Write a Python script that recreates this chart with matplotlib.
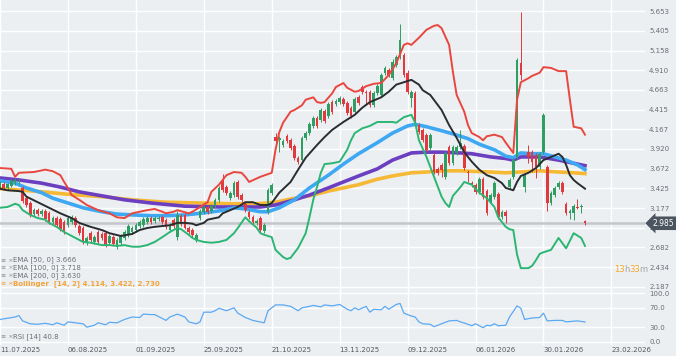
import numpy as np
import matplotlib
matplotlib.use("Agg")
import matplotlib.pyplot as plt
from matplotlib.transforms import blended_transform_factory

# === Données : bougies (index = jour de bourse) ===
opens = [3.45, 3.48, 3.43, 3.45, 3.49, 3.505, 3.43, 3.30, 3.24, 3.10,
         3.15, 3.10, 3.14, 3.11, 3.00, 3.05, 3.04, 3.00, 2.96, 3.00,
         3.05, 2.95, 2.925, 2.74, 2.86, 2.75, 2.875, 2.85, 2.86, 2.74,
         2.81, 2.69, 2.74, 2.80, 2.84, 2.875, 2.90, 2.95, 2.96, 3.00,
         3.05, 3.01, 3.04, 3.06, 3.03, 2.90, 3.03, 2.81, 3.08, 3.09,
         2.925, 2.90, 2.775, 3.05, 3.13, 3.19, 3.14, 3.20, 3.28, 3.52,
         3.44, 3.30, 3.34, 3.505, 3.34, 3.23, 3.13, 3.06, 2.99, 3.05,
         2.89, 3.13, 3.37, 4.07, 4.03, 3.97, 4.08, 4.03, 3.96, 3.81,
         3.78, 4.06, 4.12, 4.21, 4.31, 4.29, 4.40, 4.335, 4.51, 4.49,
         4.51, 4.55, 4.50, 4.44, 4.39, 4.57, 4.70, 4.64, 4.64, 4.47,
         4.62, 4.60, 4.88, 4.91, 4.81, 4.98, 5.08, 5.10, 4.88, 4.56,
         4.62, 4.22, 4.16, 4.10, 3.93, 3.84, 3.67, 3.72, 3.57, 3.95,
         3.74, 3.87, 3.95, 3.96, 3.63, 3.49, 3.47, 3.38, 3.54, 3.39,
         3.25, 3.32, 3.35, 3.06, 3.13, 3.44, 3.57, 3.82, 5.00, 3.44,
         3.88, 3.88, 3.84, 3.69, 3.88, 3.69, 3.24, 3.34, 3.44, 3.49,
         3.23, 3.11, 3.11, 3.19, 3.19, 3.01]
closes = [3.49, 3.43, 3.48, 3.52, 3.53, 3.52, 3.27, 3.215, 3.09, 3.15,
          3.10, 3.14, 3.04, 3.00, 3.05, 2.96, 2.91, 2.875, 3.05, 3.06,
          2.96, 2.86, 2.75, 2.80, 2.775, 2.81, 2.75, 2.80, 2.71, 2.825,
          2.725, 2.775, 2.825, 2.875, 2.95, 2.925, 2.96, 3.00, 3.04, 3.05,
          3.00, 3.05, 3.05, 3.00, 2.94, 2.96, 2.95, 3.09, 2.98, 2.925,
          2.875, 2.84, 2.84, 3.14, 3.19, 3.13, 3.20, 3.28, 3.43, 3.40,
          3.37, 3.37, 3.49, 3.32, 3.28, 3.15, 3.06, 3.00, 3.01, 2.90,
          2.96, 3.40, 3.47, 4.02, 4.06, 4.02, 4.02, 3.93, 3.81, 3.76,
          4.06, 4.12, 4.23, 4.31, 4.21, 4.41, 4.27, 4.49, 4.39, 4.52,
          4.56, 4.49, 4.37, 4.335, 4.55, 4.50, 4.64, 4.62, 4.47, 4.62,
          4.71, 4.85, 4.94, 4.85, 5.02, 5.08, 5.29, 4.85, 4.64, 4.64,
          4.29, 4.13, 4.03, 3.91, 4.10, 3.63, 3.62, 3.66, 3.87, 3.74,
          3.95, 3.95, 4.00, 3.68, 3.62, 3.47, 3.38, 3.54, 3.32, 3.11,
          3.34, 3.49, 3.06, 3.13, 3.08, 3.53, 3.78, 5.04, 4.85, 3.59,
          3.82, 3.76, 3.69, 3.86, 4.35, 3.24, 3.37, 3.43, 3.49, 3.38,
          3.11, 3.14, 3.20, 3.18, 3.19, 2.985]
highs = [3.52, 3.505, 3.49, 3.54, 3.555, 3.54, 3.45, 3.33, 3.27, 3.18,
         3.18, 3.165, 3.165, 3.14, 3.08, 3.08, 3.06, 3.03, 3.08, 3.09,
         3.08, 2.98, 2.95, 2.825, 2.89, 2.84, 2.90, 2.875, 2.89, 2.85,
         2.84, 2.80, 2.85, 2.90, 2.98, 2.95, 2.99, 3.03, 3.06, 3.08,
         3.08, 3.08, 3.08, 3.09, 3.05, 2.99, 3.05, 3.14, 3.10, 3.11,
         2.95, 2.925, 2.86, 3.165, 3.215, 3.215, 3.23, 3.30, 3.45, 3.61,
         3.47, 3.39, 3.52, 3.53, 3.37, 3.25, 3.15, 3.09, 3.04, 3.08,
         2.99, 3.43, 3.49, 4.12, 4.08, 4.05, 4.11, 4.06, 3.98, 3.83,
         4.08, 4.15, 4.26, 4.335, 4.335, 4.44, 4.42, 4.51, 4.54, 4.55,
         4.59, 4.57, 4.52, 4.46, 4.57, 4.60, 4.73, 4.66, 4.66, 4.65,
         4.74, 4.88, 4.96, 4.94, 5.05, 5.10, 5.49, 5.13, 4.91, 4.66,
         4.65, 4.25, 4.18, 4.12, 4.12, 3.87, 3.69, 3.74, 3.895, 3.97,
         3.97, 3.97, 4.16, 3.98, 3.66, 3.52, 3.49, 3.57, 3.57, 3.42,
         3.37, 3.52, 3.38, 3.15, 3.15, 3.555, 3.81, 5.07, 5.64, 3.61,
         3.97, 3.91, 3.87, 3.88, 4.37, 3.72, 3.39, 3.45, 3.52, 3.52,
         3.25, 3.165, 3.23, 3.29, 3.23, 3.03]
lows = [3.43, 3.40, 3.40, 3.44, 3.47, 3.48, 3.24, 3.19, 3.06, 3.08,
        3.08, 3.08, 3.01, 2.98, 2.98, 2.94, 2.89, 2.85, 2.94, 2.98,
        2.94, 2.84, 2.725, 2.71, 2.75, 2.725, 2.725, 2.775, 2.69, 2.71,
        2.70, 2.66, 2.71, 2.775, 2.81, 2.85, 2.875, 2.925, 2.94, 2.98,
        2.98, 2.99, 3.01, 2.98, 2.91, 2.875, 2.925, 2.775, 2.95, 2.91,
        2.85, 2.81, 2.75, 3.03, 3.10, 3.10, 3.11, 3.18, 3.25, 3.38,
        3.34, 3.28, 3.32, 3.29, 3.25, 3.13, 3.04, 2.98, 2.96, 2.875,
        2.86, 3.10, 3.34, 3.97, 3.88, 3.95, 4.00, 3.91, 3.78, 3.73,
        3.76, 4.03, 4.10, 4.18, 4.18, 4.26, 4.25, 4.31, 4.36, 4.46,
        4.49, 4.46, 4.35, 4.31, 4.36, 4.47, 4.61, 4.47, 4.45, 4.45,
        4.60, 4.57, 4.85, 4.83, 4.79, 4.95, 5.05, 4.83, 4.61, 4.45,
        4.26, 4.11, 4.01, 3.88, 3.91, 3.61, 3.59, 3.57, 3.54, 3.72,
        3.72, 3.84, 3.92, 3.66, 3.505, 3.44, 3.35, 3.35, 3.29, 3.09,
        3.23, 3.29, 3.04, 3.04, 2.99, 3.42, 3.54, 3.80, 4.79, 3.38,
        3.74, 3.63, 3.555, 3.67, 3.86, 3.14, 3.215, 3.32, 3.42, 3.35,
        3.09, 3.04, 3.03, 3.165, 3.11, 2.96]

# === Indicateurs ===
ema50_idx = [0, 4, 7, 11, 14, 18, 22, 27, 31, 35, 40, 44, 49, 53, 58, 62, 65, 69, 71, 74,
             78, 82, 87, 91, 95, 100, 104, 108, 110, 113, 117, 120, 124, 127, 131, 134, 136, 138, 141, 144,
             147, 150, 153, 155]
ema50_val = [3.52, 3.49, 3.43, 3.37, 3.30, 3.24, 3.18, 3.13, 3.10, 3.09, 3.08, 3.08, 3.09, 3.11, 3.14, 3.18, 3.165, 3.13, 3.13, 3.18,
             3.28, 3.43, 3.59, 3.73, 3.86, 4.00, 4.12, 4.21, 4.23, 4.20, 4.15, 4.11, 4.05, 3.98, 3.91, 3.83, 3.81, 3.87, 3.86, 3.86,
             3.82, 3.78, 3.72, 3.66]
ema100_idx = [0, 5, 11, 16, 21, 27, 33, 40, 49, 58, 64, 69, 73, 78, 82, 87, 91, 95, 100, 104,
              109, 113, 117, 122, 125, 130, 134, 136, 138, 143, 148, 152, 155]
ema100_val = [3.555, 3.53, 3.49, 3.44, 3.38, 3.33, 3.28, 3.24, 3.20, 3.19, 3.19, 3.19, 3.215, 3.28, 3.34, 3.43, 3.505, 3.58, 3.67, 3.78,
              3.87, 3.88, 3.88, 3.87, 3.86, 3.82, 3.80, 3.78, 3.82, 3.82, 3.78, 3.74, 3.71]
ema200_idx = [0, 9, 18, 27, 35, 44, 53, 62, 68, 73, 78, 82, 87, 91, 95, 100, 104, 109, 113, 117,
              122, 130, 134, 143, 148, 152, 155]
ema200_val = [3.42, 3.39, 3.35, 3.32, 3.28, 3.25, 3.24, 3.23, 3.23, 3.25, 3.30, 3.33, 3.39, 3.43, 3.47, 3.54, 3.58, 3.62, 3.63, 3.645,
              3.645, 3.63, 3.62, 3.645, 3.63, 3.62, 3.61]

bb_up_idx = [0, 3, 4, 5, 9, 12, 14, 16, 17, 18, 19, 21, 23, 26, 29, 31, 33, 35, 39, 41,
             43, 44, 46, 47, 50, 51, 53, 55, 56, 58, 59, 60, 62, 64, 65, 66, 69, 72, 73, 74,
             75, 77, 78, 80, 81, 83, 84, 85, 86, 88, 89, 91, 92, 94, 95, 97, 99, 101, 103, 105,
             107, 108, 109, 111, 113, 115, 116, 117, 119, 120, 121, 123, 124, 125, 127, 128, 129, 131, 133, 134,
             136, 137, 138, 140, 141, 143, 144, 146, 148, 150, 151, 152, 154, 155]
bb_up_val = [3.68, 3.67, 3.57, 3.62, 3.63, 3.66, 3.64, 3.59, 3.505, 3.43, 3.34, 3.28, 3.215, 3.15, 3.11, 3.06, 3.05, 3.11, 3.15, 3.165,
             3.13, 3.11, 3.13, 3.15, 3.11, 3.13, 3.19, 3.25, 3.38, 3.47, 3.53, 3.59, 3.63, 3.62, 3.57, 3.505, 3.57, 3.62, 3.91, 4.13,
             4.25, 4.39, 4.41, 4.47, 4.54, 4.57, 4.51, 4.50, 4.51, 4.62, 4.70, 4.75, 4.69, 4.64, 4.65, 4.71, 4.74, 4.75, 4.85, 5.00,
             5.23, 5.25, 5.23, 5.32, 5.42, 5.47, 5.48, 5.44, 5.23, 4.89, 4.60, 4.39, 4.22, 4.12, 4.07, 4.03, 4.08, 4.10, 4.07, 4.00,
             3.87, 4.54, 4.76, 4.81, 4.84, 4.88, 4.95, 4.94, 4.90, 4.90, 4.54, 4.20, 4.18, 4.10]
bb_mid_idx = [0, 2, 5, 6, 7, 10, 13, 16, 19, 21, 24, 27, 29, 32, 35, 37, 39, 41, 43, 45,
              47, 49, 51, 52, 54, 55, 58, 59, 61, 63, 65, 67, 69, 71, 72, 74, 77, 79, 81, 84,
              86, 88, 91, 94, 96, 98, 101, 103, 105, 107, 109, 111, 112, 114, 117, 119, 121, 123, 125, 127,
              129, 131, 133, 134, 136, 137, 138, 140, 142, 144, 146, 148, 149, 150, 151, 152, 153, 155]
bb_mid_val = [3.42, 3.40, 3.39, 3.38, 3.32, 3.25, 3.18, 3.11, 3.05, 2.99, 2.94, 2.90, 2.86, 2.825, 2.85, 2.90, 2.925, 2.94, 2.95, 2.96,
              2.99, 2.99, 2.98, 2.96, 2.99, 3.03, 3.06, 3.11, 3.15, 3.19, 3.25, 3.25, 3.215, 3.215, 3.24, 3.37, 3.505, 3.66, 3.81, 3.97,
              4.07, 4.16, 4.26, 4.35, 4.44, 4.51, 4.57, 4.64, 4.73, 4.76, 4.79, 4.73, 4.66, 4.60, 4.41, 4.22, 4.06, 3.88, 3.76, 3.66,
              3.59, 3.555, 3.49, 3.43, 3.40, 3.505, 3.58, 3.62, 3.68, 3.78, 3.82, 3.86, 3.82, 3.72, 3.59, 3.53, 3.49, 3.42]
bb_low_idx = [0, 2, 4, 5, 6, 8, 10, 12, 13, 15, 17, 19, 21, 22, 24, 27, 29, 31, 33, 35,
              37, 39, 41, 43, 45, 47, 48, 50, 51, 52, 54, 56, 58, 60, 62, 63, 65, 66, 68, 69,
              70, 72, 73, 75, 76, 77, 79, 81, 82, 83, 84, 85, 86, 88, 90, 92, 93, 94, 96, 98,
              100, 102, 104, 105, 107, 109, 110, 111, 113, 115, 117, 118, 119, 120, 122, 123, 125, 127, 129, 131,
              132, 134, 135, 136, 137, 138, 140, 141, 142, 143, 144, 146, 148, 150, 152, 154, 155]
bb_low_val = [3.18, 3.19, 3.23, 3.215, 3.15, 3.09, 3.05, 3.03, 2.99, 2.94, 2.875, 2.825, 2.775, 2.75, 2.74, 2.71, 2.71, 2.70, 2.71, 2.69,
              2.69, 2.71, 2.75, 2.81, 2.875, 2.925, 2.91, 2.84, 2.80, 2.775, 2.75, 2.74, 2.75, 2.775, 2.86, 2.925, 3.06, 3.01, 2.93, 2.86,
              2.84, 2.81, 2.65, 2.56, 2.535, 2.55, 2.675, 2.86, 3.06, 3.28, 3.44, 3.62, 3.73, 3.74, 3.76, 3.91, 4.03, 4.12, 4.18, 4.21,
              4.26, 4.26, 4.26, 4.25, 4.32, 4.35, 4.25, 4.03, 3.82, 3.57, 3.32, 3.24, 3.19, 3.33, 3.44, 3.505, 3.47, 3.37, 3.30, 3.19,
              3.06, 2.94, 2.91, 2.90, 2.59, 2.42, 2.42, 2.45, 2.52, 2.60, 2.62, 2.65, 2.80, 2.67, 2.86, 2.80, 2.70]

rsi_idx = [0, 4, 5, 6, 8, 10, 12, 14, 15, 17, 18, 20, 22, 23, 25, 26, 28, 29, 31, 33,
           35, 37, 38, 40, 41, 44, 45, 47, 49, 50, 52, 53, 54, 56, 57, 58, 60, 62, 63, 65,
           67, 70, 71, 73, 75, 77, 79, 80, 82, 83, 85, 86, 88, 90, 92, 93, 94, 95, 97, 98,
           99, 101, 102, 103, 105, 106, 107, 109, 110, 111, 112, 114, 115, 116, 118, 119, 121, 122, 124, 125,
           126, 128, 129, 130, 131, 132, 134, 135, 137, 138, 139, 141, 143, 144, 145, 147, 149, 150, 153, 155]
rsi_val = [46, 51, 54, 43, 37, 36, 38, 35, 39, 34, 41, 39, 37, 30, 34, 39, 35, 40, 39, 46,
           51, 50, 57, 56, 56, 44, 51, 57, 51, 41, 37, 41, 61, 61, 64, 69, 64, 70, 59, 50,
           44, 39, 64, 76, 76, 73, 64, 70, 73, 75, 72, 76, 74, 77, 67, 64, 70, 66, 73, 61,
           67, 66, 73, 67, 77, 79, 59, 53, 51, 41, 37, 36, 31, 34, 40, 43, 44, 41, 36, 33,
           37, 29, 34, 33, 37, 33, 34, 51, 74, 69, 46, 49, 50, 59, 43, 44, 44, 41, 43, 40.8]

# axe des dates : un repère tous les 18 jours de bourse
date_ticks = [0, 18, 36, 54, 72, 90, 108, 126, 144, 162]
date_labels = ["11.07.2025", "06.08.2025", "01.09.2025", "25.09.2025", "21.10.2025",
               "13.11.2025", "09.12.2025", "06.01.2026", "30.01.2026", "23.02.2026"]
price_ticks = [5.653, 5.405, 5.158, 4.910, 4.663, 4.415, 4.167, 3.920, 3.672,
               3.425, 3.177, 2.929, 2.682, 2.434, 2.187]
rsi_ticks = [0, 30, 70, 100]

legend_lines = ["EMA [50, 0] 3.666", "EMA [100, 0] 3.718", "EMA [200, 0] 3.630"]
bollinger_text = "Bollinger  [14, 2] 4.114, 3.422, 2.730"

# === Styles ===
BG = "#eceff2"
UP = "#2f9e62"
DOWN = "#e0393e"
TXT = "#6b6f73"

fig = plt.figure(figsize=(6.76, 3.56), dpi=100)
fig.patch.set_facecolor(BG)
ax = fig.add_axes([0, 66 / 356, 645 / 676, 290 / 356])
ax_rsi = fig.add_axes([0, 11 / 356, 645 / 676, 55 / 356])

for a in (ax, ax_rsi):
    a.set_facecolor(BG)
    for s in a.spines.values():
        s.set_visible(False)
    a.set_axisbelow(True)
    a.set_xlim(0.26, 170.9)
    a.set_xticks(date_ticks)
    a.grid(color="white", lw=1.0)
    a.yaxis.tick_right()
    a.tick_params(length=0, labelsize=5, labelcolor=TXT, pad=3)

# --- prix ---
ax.set_ylim(2.145, 5.795)
ax.set_yticks(price_ticks)
ax.set_yticklabels([f"{p:.3f}" for p in price_ticks])
ax.set_xticklabels([])

last_price = closes[-1]
ax.axhline(last_price, color="#c3c6ca", lw=1.8, zorder=1.5)

ax.plot(ema200_idx, ema200_val, color="#f6b936", lw=2.6, zorder=2)
ax.plot(ema100_idx, ema100_val, color="#6c3fc0", lw=2.6, zorder=2)
ax.plot(ema50_idx, ema50_val, color="#3ea8f2", lw=2.6, zorder=2)

o = np.array(opens)
c = np.array(closes)
x = np.arange(len(c))
cols = np.where(c >= o, UP, DOWN)
ax.vlines(x, lows, highs, colors=cols, lw=0.7, zorder=3)
ax.bar(x, np.maximum(np.abs(c - o), 0.012), bottom=np.minimum(o, c), width=0.7,
       color=cols, zorder=3)

ax.plot(bb_up_idx, bb_up_val, color="#e8473f", lw=1.4, zorder=4)
ax.plot(bb_low_idx, bb_low_val, color="#2bb673", lw=1.4, zorder=4)
ax.plot(bb_mid_idx, bb_mid_val, color="#2a2d30", lw=1.4, zorder=4)

trans = blended_transform_factory(ax.transAxes, ax.transData)
ax.text(1.012, last_price, f"{last_price:.3f}", transform=trans, color="white",
        fontsize=5.5, va="center", ha="left", zorder=10, clip_on=False,
        bbox=dict(boxstyle="larrow,pad=0.3", fc="#4a5560", ec="none"))

# légende en bas à gauche
for k, txt in enumerate(legend_lines):
    y = 1 - (260 + 7.8 * k) / 356
    fig.text(0.001, y, "≡ ×", fontsize=4.5, color="#8a8e92", va="center")
    fig.text(13 / 676, y, txt, fontsize=5, color=TXT, va="center")
y = 1 - 283.4 / 356
fig.text(0.001, y, "≡ ×", fontsize=4.5, color="#f2a43a", va="center")
fig.text(13 / 676, y, bollinger_text, fontsize=5, color="#f2a43a", va="center",
         fontweight="bold")

# compte à rebours
ty = 1 - 270 / 356
fig.text(614 / 676, ty, "13", fontsize=6, color="#f5a623", va="center")
fig.text(624 / 676, ty, "h", fontsize=6, color="#a0a4a8", va="center")
fig.text(629 / 676, ty, "33", fontsize=6, color="#f5a623", va="center")
fig.text(639 / 676, ty, "m", fontsize=6, color="#a0a4a8", va="center")

# --- RSI ---
ax_rsi.set_ylim(-6.8, 106.8)
ax_rsi.set_yticks(rsi_ticks)
ax_rsi.set_yticklabels([f"{v:.1f}" for v in rsi_ticks])
ax_rsi.set_xticklabels(date_labels, ha="left")
ax_rsi.tick_params(axis="x", pad=1.5, labelcolor="#55595d")
ax_rsi.plot(rsi_idx, rsi_val, color="#5aa9f3", lw=0.9, zorder=3)
fig.text(0.001, 1 - 337 / 356, "≡ ×", fontsize=4.5, color="#8a8e92", va="center")
fig.text(13 / 676, 1 - 337 / 356, f"RSI [14] {rsi_val[-1]:.1f}", fontsize=5,
         color=TXT, va="center")

fig.savefig("out.png", dpi=100, facecolor=BG)
